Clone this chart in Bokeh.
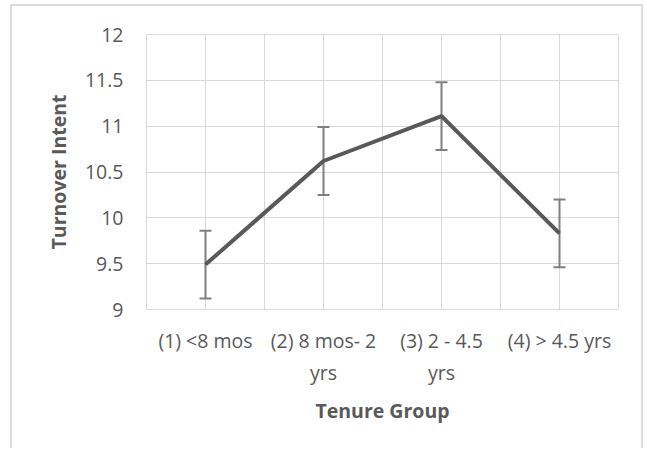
from bokeh.plotting import figure
from bokeh.models import Range1d, FixedTicker, Whisker, ColumnDataSource
from bokeh.embed import file_html
from bokeh.resources import INLINE

categories = ["(1) <8 mos", "(2) 8 mos- 2\nyrs", "(3) 2 - 4.5\nyrs", "(4) > 4.5 yrs"]
means = [9.49, 10.62, 11.11, 9.83]
errors = [0.37, 0.37, 0.37, 0.37]
y_ticks = [9, 9.5, 10, 10.5, 11, 11.5, 12]

xs = [i + 0.5 for i in range(len(categories))]
src = ColumnDataSource(dict(
    x=xs, y=means,
    upper=[m + e for m, e in zip(means, errors)],
    lower=[m - e for m, e in zip(means, errors)],
))

FONT = "Open Sans"
TXT = "#595959"
GRID = "#d9d9d9"
FS = "19.5px"

p = figure(width=633, height=444, output_backend="svg", toolbar_location=None,
           x_range=Range1d(0, len(categories)), y_range=Range1d(9, 12),
           min_border_left=134, min_border_right=27, min_border_top=28, min_border_bottom=141)
p.styles = {"margin-left": "10px", "margin-top": "4px",
            "border-left": "2px solid #dcdcdc", "border-top": "2px solid #dcdcdc",
            "border-right": "2px solid #dcdcdc"}
p.outline_line_color = GRID
p.outline_line_width = 1

p.line("x", "y", source=src, line_color="#595959", line_width=4)
w = Whisker(base="x", upper="upper", lower="lower", source=src,
            line_color="#808080", line_width=2)
for h in (w.upper_head, w.lower_head):
    h.size = 12
    h.line_color = "#808080"
    h.line_width = 2
p.add_layout(w)

# grids
p.xgrid.ticker = FixedTicker(ticks=[i * 0.5 for i in range(2 * len(categories) + 1)])
p.ygrid.ticker = FixedTicker(ticks=y_ticks)
for g in (p.xgrid, p.ygrid):
    g.grid_line_color = GRID
    g.grid_line_width = 1

# axes
p.xaxis.ticker = FixedTicker(ticks=xs)
p.xaxis.major_label_overrides = {x: c for x, c in zip(xs, categories)}
p.yaxis.ticker = FixedTicker(ticks=y_ticks)
p.yaxis.major_label_overrides = {t: ("%g" % t) for t in y_ticks}
for ax in (p.xaxis[0], p.yaxis[0]):
    ax.axis_line_color = None
    ax.major_tick_line_color = None
    ax.minor_tick_line_color = None
    ax.major_tick_out = 0
    ax.major_tick_in = 0
    ax.major_label_text_font = FONT
    ax.major_label_text_font_size = FS
    ax.major_label_text_color = TXT
    ax.axis_label_text_font = FONT
    ax.axis_label_text_font_size = FS
    ax.axis_label_text_font_style = "bold"
    ax.axis_label_text_color = TXT
p.xaxis.axis_label = "Tenure Group"
p.yaxis.axis_label = "Turnover Intent"
p.xaxis.major_label_standoff = 17
p.yaxis.major_label_standoff = 23
p.xaxis.axis_label_standoff = 8
p.yaxis.axis_label_standoff = 10

open("out.html", "w").write(file_html(p, INLINE))
